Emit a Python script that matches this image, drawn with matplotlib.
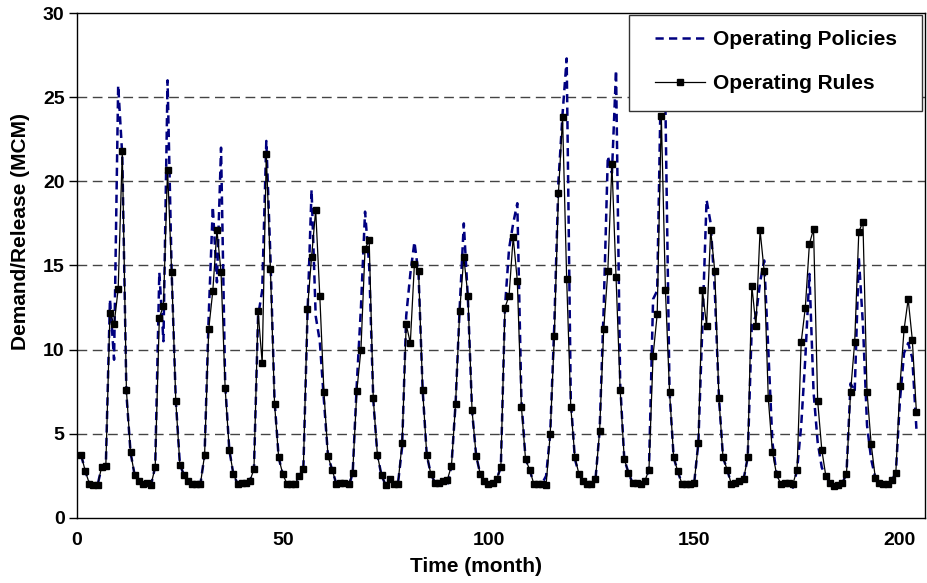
import numpy as np
import matplotlib
matplotlib.use('Agg')
from matplotlib import pyplot as plt
from matplotlib.patches import Rectangle

plt.rcParams['font.family'] = ['Liberation Sans', 'DejaVu Sans']
plt.rcParams['font.weight'] = 'bold'

# monthly demand / release (MCM), months 1..204
rules = [
    3.74, 2.79, 2.04, 1.96, 1.96, 3.05, 3.1, 12.2, 11.5, 13.6, 21.8, 7.6,
    3.9, 2.55, 2.18, 2.04, 2.1, 1.98, 3.05, 11.9, 12.6, 20.7, 14.6, 6.96,
    3.17, 2.55, 2.2, 2.04, 2.04, 2.04, 3.74, 11.2, 13.5, 17.1, 14.6, 7.7,
    4.06, 2.6, 2.04, 2.08, 2.1, 2.2, 2.9, 12.3, 9.2, 21.6, 14.8, 6.8,
    3.6, 2.6, 2.04, 2.0, 2.04, 2.5, 2.9, 12.4, 15.5, 18.3, 13.2, 7.5,
    3.66, 2.87, 2.04, 2.1, 2.1, 2.0, 2.7, 7.56, 10.0, 16.0, 16.5, 7.1,
    3.74, 2.53, 1.96, 2.3, 2.04, 2.04, 4.45, 11.5, 10.4, 15.1, 14.7, 7.6,
    3.74, 2.6, 2.1, 2.1, 2.2, 2.28, 3.1, 6.8, 12.3, 15.5, 13.2, 6.4,
    3.7, 2.6, 2.2, 2.04, 2.08, 2.33, 3.0, 12.5, 13.2, 16.7, 14.1, 6.6,
    3.5, 2.87, 2.04, 2.04, 2.04, 1.96, 5.0, 10.8, 19.3, 23.8, 14.2, 6.6,
    3.6, 2.6, 2.2, 2.04, 2.04, 2.3, 5.14, 11.2, 14.66, 21.0, 14.3, 7.6,
    3.5, 2.7, 2.08, 2.1, 2.0, 2.2, 2.87, 9.65, 12.1, 23.9, 13.55, 7.5,
    3.6, 2.77, 2.04, 2.04, 2.04, 2.1, 4.45, 13.55, 11.4, 17.1, 14.66, 7.1,
    3.6, 2.87, 2.04, 2.1, 2.2, 2.3, 3.6, 13.8, 11.4, 17.1, 14.66, 7.1,
    3.94, 2.6, 2.04, 2.1, 2.1, 2.04, 2.87, 10.45, 12.5, 16.3, 17.15, 6.96,
    4.06, 2.47, 2.1, 1.88, 1.96, 2.1, 2.6, 7.5, 10.45, 17.0, 17.6, 7.5,
    4.4, 2.4, 2.1, 2.0, 2.04, 2.24, 2.67, 7.85, 11.2, 13.0, 10.6, 6.27,
]

policies = [
    3.74, 2.79, 2.04, 1.96, 1.96, 3.05, 3.1, 13.0, 9.4, 25.7, 21.5, 7.4,
    3.9, 2.55, 2.18, 2.04, 2.1, 1.98, 3.05, 14.6, 10.5, 26.0, 14.6, 7.0,
    3.17, 2.55, 2.2, 2.04, 2.04, 2.04, 3.74, 12.0, 18.5, 14.0, 22.0, 8.0,
    4.06, 2.6, 2.04, 2.08, 2.1, 2.2, 2.9, 12.0, 13.5, 22.4, 15.5, 7.0,
    3.6, 2.6, 2.04, 2.0, 2.04, 2.5, 2.9, 12.0, 19.5, 12.0, 10.5, 7.0,
    3.66, 2.87, 2.04, 2.1, 2.1, 1.8, 2.7, 8.0, 12.5, 18.2, 15.0, 7.0,
    3.74, 2.53, 1.96, 2.3, 2.04, 2.04, 4.2, 12.0, 14.5, 16.4, 14.5, 7.6,
    3.74, 2.6, 2.1, 2.1, 2.2, 1.9, 3.1, 6.8, 12.5, 17.5, 13.0, 6.4,
    3.7, 2.6, 2.2, 2.04, 2.08, 2.33, 3.0, 12.5, 16.0, 17.5, 18.7, 7.0,
    3.5, 2.87, 2.04, 2.04, 2.04, 2.5, 5.0, 11.5, 20.0, 24.0, 27.3, 7.0,
    3.5, 2.6, 2.2, 2.04, 2.04, 2.3, 5.14, 12.5, 21.5, 20.5, 26.6, 8.0,
    3.5, 2.7, 2.08, 2.1, 2.0, 2.2, 2.87, 13.0, 13.5, 27.5, 24.5, 7.5,
    3.6, 2.77, 2.04, 2.04, 2.04, 2.1, 4.45, 11.5, 18.9, 17.5, 13.5, 7.2,
    3.6, 2.87, 2.04, 2.1, 2.2, 2.3, 3.6, 11.5, 12.0, 14.0, 15.3, 10.0,
    4.5, 2.6, 2.04, 2.1, 2.1, 1.8, 2.87, 5.5, 9.5, 14.5, 7.5, 4.5,
    3.0, 2.47, 2.1, 1.88, 1.96, 2.1, 2.6, 8.0, 7.5, 15.5, 11.5, 5.5,
    3.5, 2.4, 2.1, 2.0, 2.04, 2.24, 2.67, 7.0, 9.8, 10.4, 9.5, 5.3,
]

months = np.arange(1, len(rules) + 1)

W, H = 927, 583
fig = plt.figure(figsize=(W / 100, H / 100), dpi=100)
ax = fig.add_axes([0.0831, 0.1115, 0.9148, 0.8662])

for y in [5, 10, 15, 20, 25]:
    ax.axhline(y, color='#444444', lw=1, dashes=(7, 4), zorder=1)

l1, = ax.plot(months, policies, color='#000080', lw=1.8, dashes=(3.3, 2.1),
              zorder=2)
l2, = ax.plot(months, rules, color='black', lw=0.9, marker='s', markersize=3.8,
              zorder=3)

ax.set_xlim(0, 206.1)
ax.set_ylim(0, 30)
ax.set_xticks([0, 50, 100, 150, 200])
ax.set_yticks([0, 5, 10, 15, 20, 25, 30])
ax.tick_params(axis='x', length=0, pad=10, labelsize=14)
ax.tick_params(axis='y', length=6, width=1, pad=3, labelsize=14)
for s in ax.spines.values():
    s.set_color('black')
    s.set_linewidth(1)

ax.set_xlabel('Time (month)', fontsize=15, fontweight='bold')
ax.set_ylabel('Demand/Release (MCM)', fontsize=15, fontweight='bold')
ax.xaxis.set_label_coords(0.4705, -0.077)
ax.yaxis.set_label_coords(-0.055, 0.568)

# legend box drawn separately so its size matches the original
box = Rectangle((629 / W, 1 - 111 / H), (922 - 629) / W, (111 - 15) / H,
                transform=fig.transFigure, facecolor='white',
                edgecolor='#333333', lw=1, zorder=4)
fig.patches.append(box)
leg = fig.legend([l1, l2], ['Operating Policies', 'Operating Rules'],
                 loc='upper left', bbox_to_anchor=(655 / W, 1 - 30 / H),
                 bbox_transform=fig.transFigure, borderaxespad=0, borderpad=0,
                 fontsize=15, handlelength=2.4, handletextpad=0.4,
                 labelspacing=1.2, frameon=False, numpoints=1)
leg.set_zorder(5)

plt.savefig('out.png', dpi=100)
